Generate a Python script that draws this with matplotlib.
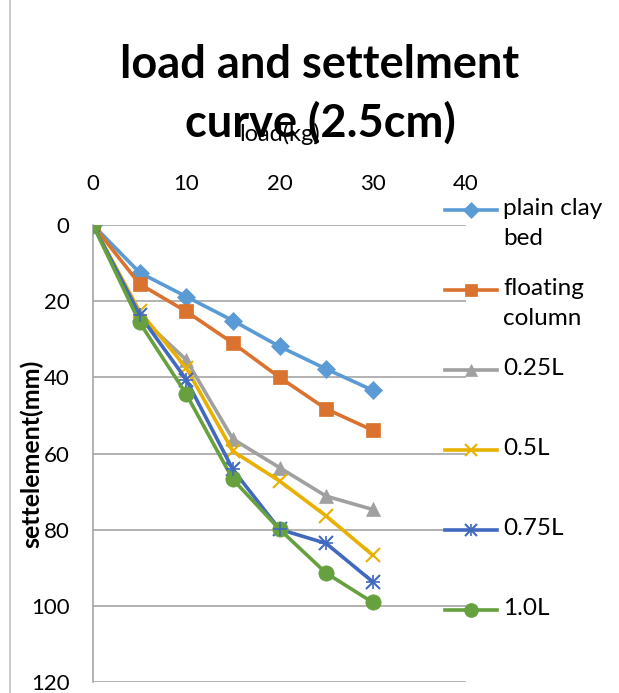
import matplotlib.pyplot as plt
from matplotlib.lines import Line2D
from matplotlib.patches import Rectangle

plt.rcParams['font.family'] = ['Lato', 'DejaVu Sans']

# ------------------------------------------------------------------ data
load = [0, 5, 10, 15, 20, 25, 30]
plain_clay = [0, 12.5, 18.8, 25.1, 31.9, 37.8, 43.4]
floating = [0, 15.5, 22.7, 31.0, 40.0, 48.3, 53.9]
l025 = [0, 24.0, 35.4, 56.2, 63.7, 71.2, 74.7]
l050 = [0, 22.7, 37.5, 59.4, 67.2, 76.4, 86.7]
l075 = [0, 23.6, 40.6, 64.2, 79.9, 83.6, 93.7]
l100 = [0, 25.6, 44.4, 66.8, 79.9, 91.4, 99.1]

series = [
    ("plain clay\nbed", plain_clay, "#5B9BD5", "D", 9),
    ("floating\ncolumn", floating, "#D9732F", "s", 10),
    ("0.25L", l025, "#A0A0A0", "^", 10),
    ("0.5L", l050, "#E8B000", "x", 10),
    ("0.75L", l075, "#4169BE", "x", 10),
    ("1.0L", l100, "#67A03E", "o", 11),
]

W, H = 619, 693
fig = plt.figure(figsize=(W / 100, H / 100), dpi=100)
ax = fig.add_axes([93 / W, 1 - 682 / H, (466 - 93) / W, (682 - 225) / H])

for label, vals, color, marker, ms in series:
    ax.plot(load, vals, color=color, lw=2.6, marker=marker, ms=ms,
            mew=1.5 if marker == "x" else 0.5, mec=color, zorder=3)
# star marker for 0.75L: add "+" on top of x
ax.plot(load[1:], l075[1:], ls="none", marker="+", ms=10, mew=1.2,
        color="#4169BE", zorder=4)

ax.set_xlim(0, 40)
ax.set_ylim(120, 0)
ax.set_xticks(range(0, 41, 10))
ax.set_yticks(range(0, 121, 20))
ax.xaxis.tick_top()
ax.xaxis.set_label_position("top")
ax.tick_params(length=0, labelsize=16)
ax.tick_params(axis="x", pad=22)
ax.tick_params(axis="y", pad=17)
ax.grid(axis="y", color="#A6A6A6", lw=1.2)
ax.set_axisbelow(True)
for side in ["top", "right", "bottom"]:
    ax.spines[side].set_visible(False)
ax.spines["left"].set_color("#A6A6A6")
ax.spines["left"].set_linewidth(1.2)

ax.set_xlabel("load(kg)", fontsize=17, labelpad=0)
ax.xaxis.set_label_coords(0.5, 1 + 84 / (682 - 225))
ax.set_ylabel("settelement(mm)", fontsize=18, fontweight="bold")
ax.yaxis.set_label_coords(-50 / (466 - 93), 0.5)

fig.text(0.517, 1 - 65 / H, "load and settelment", ha="center", va="center",
         fontsize=32.5, fontweight="bold")
fig.text(0.517, 1 - 123 / H, "curve (2.5cm)", ha="center", va="center",
         fontsize=32.5, fontweight="bold")

# legend, drawn by hand so the line sits on the first text row
for i, (label, vals, color, marker, ms) in enumerate(series):
    yy = 1 - (210 + 80 * i) / H
    fig.add_artist(Line2D([445 / W, 497 / W], [yy, yy], color=color, lw=2.6))
    fig.add_artist(Line2D([471 / W], [yy], color=color, marker=marker, ms=ms - 1,
                          mew=1.5 if marker == "x" else 0.5, mec=color))
    if i == 4:
        fig.add_artist(Line2D([471 / W], [yy], color=color, marker="+",
                              ms=9, mew=1.2))
    fig.text(503 / W, yy + 12 / H, label, ha="left", va="top", fontsize=17.5,
             linespacing=1.55)

fig.add_artist(Rectangle((10 / W, -0.01), 1, 1.02, transform=fig.transFigure,
                         fill=False, ec="#BFBFBF", lw=1.2))

fig.savefig("out.png", dpi=100)
